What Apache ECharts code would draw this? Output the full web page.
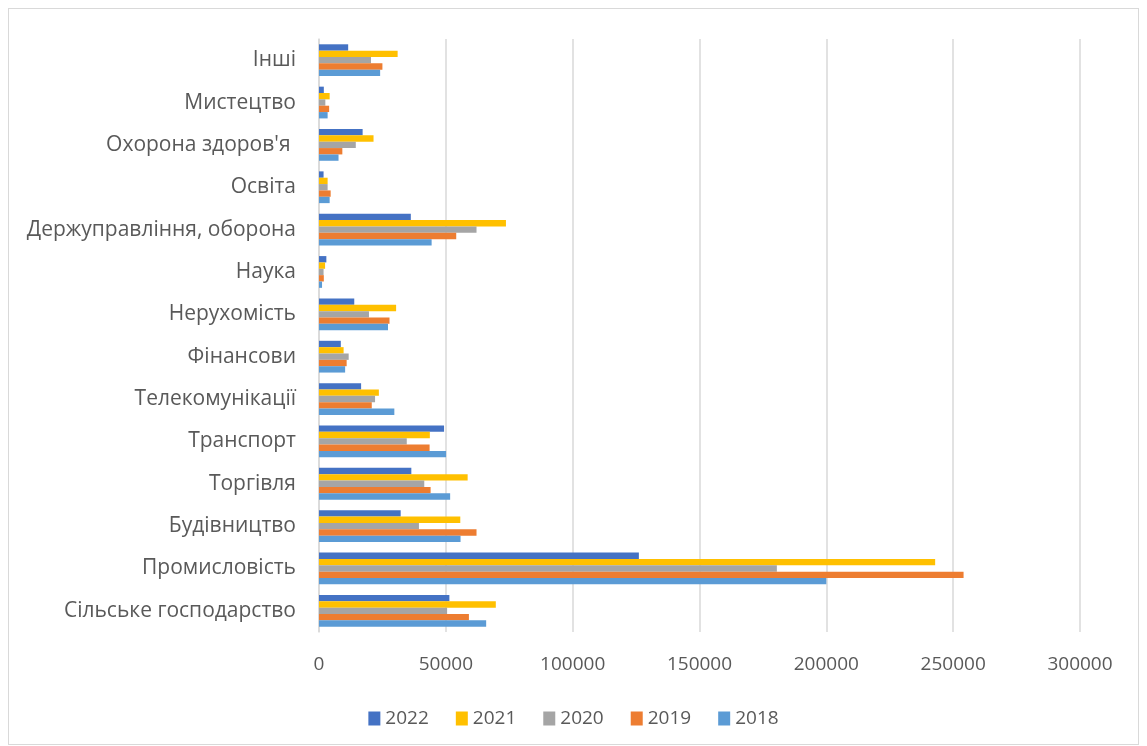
<!DOCTYPE html>
<html>
<head>
<meta charset="utf-8">
<script src="https://cdn.jsdelivr.net/npm/echarts@6/dist/echarts.min.js"></script>
<style>
  html, body { margin: 0; padding: 0; background: #fff; }
  #frame { position: absolute; left: 8px; top: 8px; width: 1131px; height: 737px; border: 1px solid #d9d9d9; box-sizing: border-box; }
  #chart { position: absolute; left: 0; top: 0; width: 1147px; height: 746px; }
</style>
</head>
<body>
<div id="frame"></div>
<div id="chart"></div>
<script>
// категорії знизу вгору
const categories = ['Сільське господарство', 'Промисловість', 'Будівництво', 'Торгівля', 'Транспорт',
  'Телекомунікації', 'Фінансови', 'Нерухомість', 'Наука', 'Держуправління, оборона',
  'Освіта', "Охорона здоров'я ", 'Мистецтво', 'Інші']
const years = ['2022', '2021', '2020', '2019', '2018']
const v2022 = [51400, 126100, 32200, 36400, 49300, 16600, 8600, 13900, 2900, 36200, 1800, 17200, 1900, 11500]
const v2021 = [69700, 242900, 55700, 58600, 43700, 23600, 9700, 30400, 2400, 73700, 3400, 21500, 4200, 31000]
const v2020 = [50500, 180500, 39400, 41500, 34600, 22100, 11700, 19700, 1800, 62100, 3400, 14500, 2500, 20500]
const v2019 = [59100, 254100, 62100, 44000, 43600, 20800, 10900, 27800, 1900, 54100, 4600, 9200, 4000, 25000]
const v2018 = [65900, 200000, 55800, 51700, 50100, 29700, 10300, 27200, 1200, 44400, 4200, 7700, 3400, 24100]
const colors = ['#4472C4', '#FFC000', '#A5A5A5', '#ED7D31', '#5B9BD5']
const values = [v2022, v2021, v2020, v2019, v2018]

const font = "'Open Sans', 'Liberation Sans', sans-serif"
const chart = echarts.init(document.getElementById('chart'))
chart.setOption({
  animation: false,
  color: colors,
  grid: { left: 319, right: 67, top: 39, bottom: 114, containLabel: false },
  legend: {
    bottom: 13,
    left: 'center',
    itemWidth: 12,
    itemHeight: 14,
    itemGap: 27,
    icon: 'rect',
    textStyle: { fontFamily: font, fontSize: 19, color: '#595959' },
    data: years
  },
  xAxis: {
    type: 'value',
    min: 0,
    max: 300000,
    interval: 50000,
    axisLine: { show: false },
    axisTick: { show: false },
    axisLabel: { fontFamily: font, fontSize: 19, color: '#595959', margin: 23, formatter: v => String(v) },
    splitLine: { lineStyle: { color: '#d9d9d9', width: 1.5 } }
  },
  yAxis: {
    type: 'category',
    data: categories,
    axisLine: { show: true, lineStyle: { color: '#d9d9d9', width: 1.5 } },
    axisTick: { show: false },
    axisLabel: { fontFamily: font, fontSize: 21, color: '#595959', margin: 23 }
  },
  series: years.map((y, i) => ({
    name: y,
    type: 'bar',
    data: values[i],
    barGap: '0%',
    barCategoryGap: '25%'
  }))
})
</script>
</body>
</html>
